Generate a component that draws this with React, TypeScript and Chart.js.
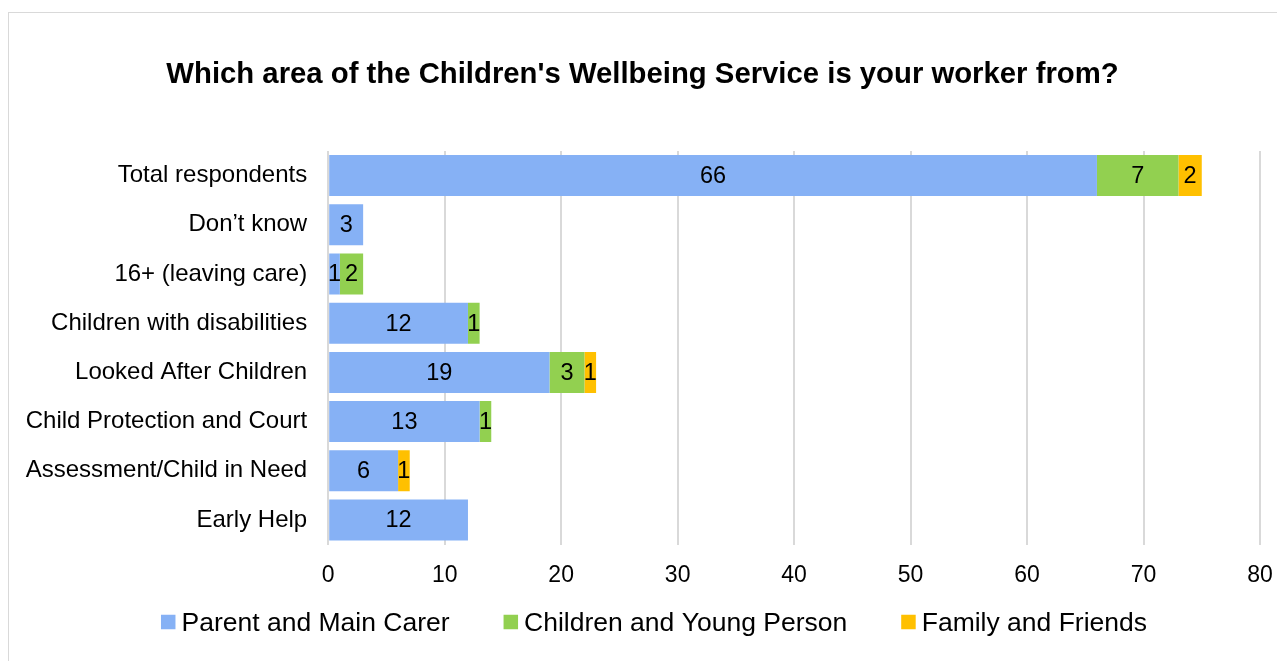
import React, { useEffect, useRef } from "react";
import { Chart, registerables } from "chart.js";

Chart.register(...registerables);

const chartTitle = "Which area of the Children's Wellbeing Service is your worker from?";
const categories = [
  "Total respondents",
  "Don\u2019t know",
  "16+ (leaving care)",
  "Children with disabilities",
  "Looked After Children",
  "Child Protection and Court",
  "Assessment/Child in Need",
  "Early Help",
];
const parentCarer = [66, 3, 1, 12, 19, 13, 6, 12];
const childrenYoung = [7, 0, 2, 1, 3, 1, 0, 0];
const familyFriends = [2, 0, 0, 0, 1, 0, 1, 0];
const seriesNames = ["Parent and Main Carer", "Children and Young Person", "Family and Friends"];
const seriesColors = ["#86B1F5", "#92D050", "#FFC000"];
const FONT = "'Liberation Sans', Arial, sans-serif";

const CANVAS_W = 1300;

const labelPlugin = {
  id: "segLabels",
  afterDatasetsDraw(chart: any) {
    const ctx = chart.ctx;
    ctx.save();
    ctx.font = `23.5px ${FONT}`;
    ctx.fillStyle = "#000";
    ctx.textAlign = "center";
    ctx.textBaseline = "middle";
    chart.data.datasets.forEach((ds: any, i: number) => {
      const meta = chart.getDatasetMeta(i);
      meta.data.forEach((el: any, j: number) => {
        const v = ds.data[j];
        if (!v) return;
        const cx = (el.x + el.base) / 2;
        ctx.fillText(String(v), cx, el.y + 1);
      });
    });
    ctx.restore();
  },
};

const titlePlugin = {
  id: "customTitle",
  afterDraw(chart: any) {
    const ctx = chart.ctx;
    ctx.save();
    ctx.font = `bold 29.3px ${FONT}`;
    ctx.fillStyle = "#000";
    ctx.textAlign = "center";
    ctx.textBaseline = "alphabetic";
    ctx.fillText(chartTitle, 633.5, 69.7);
    ctx.restore();
  },
};

const legendPlugin = {
  id: "customLegend",
  afterDraw(chart: any) {
    const ctx = chart.ctx;
    ctx.save();
    ctx.font = `26.5px ${FONT}`;
    const box = 14.5;
    const gapText = 6;
    const gapItem = 54;
    const items = chart.data.datasets.map((ds: any) => ({
      label: ds.label,
      color: ds.backgroundColor,
      w: box + gapText + ctx.measureText(ds.label).width,
    }));
    const total = items.reduce((a: number, it: any) => a + it.w, 0) + gapItem * (items.length - 1);
    let x = 645 - total / 2;
    const y = 609;
    ctx.textBaseline = "middle";
    ctx.textAlign = "left";
    items.forEach((it: any) => {
      ctx.fillStyle = it.color;
      ctx.fillRect(x, y - box / 2, box, box);
      ctx.fillStyle = "#000";
      ctx.fillText(it.label, x + box + gapText, y + 1.5);
      x += it.w + gapItem;
    });
    ctx.restore();
  },
};

export default function App() {
  const ref = useRef<HTMLCanvasElement>(null);
  useEffect(() => {
    if (!ref.current) return;
    const chart = new Chart(ref.current, {
      type: "bar",
      data: {
        labels: categories,
        datasets: [parentCarer, childrenYoung, familyFriends].map((d, i) => ({
          label: seriesNames[i],
          data: d,
          backgroundColor: seriesColors[i],
          borderWidth: 0,
          barPercentage: 0.833,
          categoryPercentage: 1,
        })),
      },
      options: {
        indexAxis: "y",
        animation: false,
        responsive: false,
        layout: { padding: { left: 0, right: CANVAS_W - 1251, top: 138, bottom: 0 } },
        scales: {
          x: {
            stacked: true,
            min: 0,
            max: 80,
            ticks: { stepSize: 10, color: "#000", font: { family: FONT, size: 23 }, padding: 17.5 },
            grid: { color: "#d9d9d9", lineWidth: 2, drawTicks: false },
            border: { display: false },
            afterFit: (s: any) => {
              s.height = 116.4;
              s.paddingLeft = 0;
              s.paddingRight = 0;
            },
          },
          y: {
            stacked: true,
            ticks: { color: "#000", font: { family: FONT, size: 24 }, padding: 13 },
            grid: { display: false },
            border: { display: false },
            afterFit: (s: any) => {
              s.width = 319.2;
              s.paddingTop = 0;
              s.paddingBottom = 0;
            },
          },
        },
        plugins: {
          title: { display: false },
          legend: { display: false },
          tooltip: { enabled: false },
        },
      },
      plugins: [labelPlugin, titlePlugin, legendPlugin],
    });
    return () => chart.destroy();
  }, []);

  return (
    <div
      style={{
        position: "fixed",
        left: 0,
        top: 0,
        width: 1277,
        height: 661,
        overflow: "hidden",
        background: "#fff",
      }}
    >
      <div
        style={{
          position: "absolute",
          left: 8,
          top: 12,
          width: 1320,
          height: 700,
          border: "1px solid #d9d9d9",
          boxSizing: "border-box",
          background: "#fff",
        }}
      >
        <canvas ref={ref} width={CANVAS_W} height={648} style={{ display: "block" }} />
      </div>
    </div>
  );
}
